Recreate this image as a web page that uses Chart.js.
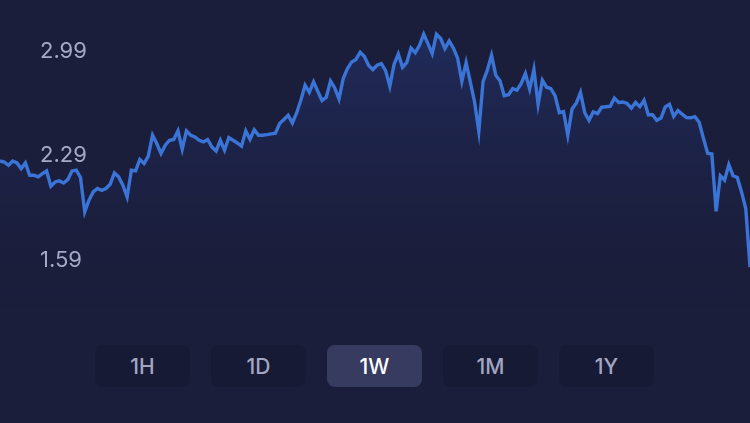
<!DOCTYPE html>
<html>
<head>
<meta charset="utf-8">
<script src="https://cdn.jsdelivr.net/npm/chart.js@4"></script>
<style>
  html, body { margin: 0; padding: 0; background: #1b1e3b; width: 750px; height: 423px; overflow: hidden; }
  #wrap { position: absolute; left: 0; top: 0; width: 750px; height: 330px; }
  .btn { position: absolute; top: 345px; width: 95px; height: 42px; border-radius: 8px; background: #171a35;
         color: #a3a6c2; font-family: Inter, "Noto Sans", sans-serif; font-weight: 500; font-size: 21px;
         display: flex; align-items: center; justify-content: center; }
  .btn.active { background: #373b60; color: #ffffff; }
</style>
</head>
<body>
<div id="wrap"><canvas id="c"></canvas></div>
<div id="btns"></div>
<script>
const periods = ["1H", "1D", "1W", "1M", "1Y"];
const activePeriod = "1W";
const yTickValues = [2.99, 2.29, 1.59];
const prices = [
  2.255, 2.248, 2.226, 2.255, 2.242, 2.204, 2.242, 2.159, 2.159, 2.148,
  2.170, 2.188, 2.085, 2.114, 2.121, 2.107, 2.130, 2.188, 2.193, 2.144,
  1.913, 1.991, 2.047, 2.070, 2.058, 2.070, 2.099, 2.175, 2.148, 2.092,
  2.013, 2.193, 2.188, 2.265, 2.238, 2.287, 2.428, 2.372, 2.305, 2.361,
  2.394, 2.399, 2.457, 2.334, 2.457, 2.428, 2.416, 2.394, 2.383, 2.399,
  2.349, 2.322, 2.394, 2.327, 2.412, 2.394, 2.376, 2.354, 2.457, 2.401,
  2.465, 2.428, 2.428, 2.432, 2.437, 2.441, 2.506, 2.533, 2.562, 2.510,
  2.577, 2.663, 2.763, 2.716, 2.786, 2.722, 2.661, 2.683, 2.792, 2.745,
  2.671, 2.808, 2.876, 2.920, 2.937, 2.985, 2.956, 2.896, 2.869, 2.898,
  2.909, 2.862, 2.757, 2.904, 2.973, 2.884, 2.917, 3.013, 2.982, 3.032,
  3.106, 3.043, 2.976, 3.106, 3.077, 3.010, 3.061, 3.013, 2.945, 2.790,
  2.915, 2.784, 2.651, 2.455, 2.787, 2.864, 2.965, 2.831, 2.794, 2.693,
  2.700, 2.741, 2.730, 2.775, 2.842, 2.737, 2.869, 2.636, 2.797, 2.750,
  2.741, 2.693, 2.579, 2.587, 2.428, 2.604, 2.643, 2.715, 2.579, 2.528,
  2.584, 2.573, 2.616, 2.619, 2.622, 2.677, 2.648, 2.651, 2.641, 2.610,
  2.648, 2.620, 2.663, 2.565, 2.565, 2.528, 2.543, 2.618, 2.636, 2.555,
  2.594, 2.569, 2.547, 2.545, 2.553, 2.515, 2.408, 2.307, 2.302, 1.917,
  2.156, 2.126, 2.230, 2.156, 2.144, 2.047, 1.935, 1.543
];
const labels = prices.map((_, i) => String(i));

// buttons
const btnWrap = document.getElementById('btns');
periods.forEach((p, i) => {
  const d = document.createElement('div');
  d.className = 'btn' + (p === activePeriod ? ' active' : '');
  d.style.left = (95 + i * 116) + 'px';
  d.textContent = p;
  btnWrap.appendChild(d);
});

const tickLabelPlugin = {
  id: 'tickLabels',
  afterDatasetsDraw(chart) {
    const ctx = chart.ctx;
    const y = chart.scales.y;
    ctx.save();
    ctx.font = '400 22px Inter, "Noto Sans", sans-serif';
    ctx.fillStyle = '#a6a9c4';
    ctx.textAlign = 'left';
    ctx.textBaseline = 'middle';
    yTickValues.forEach(v => {
      ctx.fillText(v.toFixed(2), 40, y.getPixelForValue(v));
    });
    ctx.restore();
  }
};

new Chart(document.getElementById('c'), {
  type: 'line',
  data: {
    labels: labels,
    datasets: [{
      data: prices,
      borderColor: '#3a74d6',
      borderWidth: 3.4,
      borderJoinStyle: 'miter',
      pointRadius: 0,
      tension: 0,
      fill: 'start',
      backgroundColor: (context) => {
        const chart = context.chart;
        const area = chart.chartArea;
        if (!area) return 'rgba(58,116,214,0.15)';
        const g = chart.ctx.createLinearGradient(0, 30, 0, 310);
        g.addColorStop(0, 'rgba(45,75,160,0.32)');
        g.addColorStop(0.5, 'rgba(40,60,140,0.12)');
        g.addColorStop(1, 'rgba(27,30,59,0)');
        return g;
      }
    }]
  },
  options: {
    responsive: true,
    maintainAspectRatio: false,
    animation: false,
    layout: { padding: 0 },
    plugins: { legend: { display: false }, tooltip: { enabled: false } },
    scales: {
      x: { display: false, offset: false },
      y: { display: false, min: 1.12, max: 3.3358 }
    }
  },
  plugins: [tickLabelPlugin]
});
</script>
</body>
</html>
